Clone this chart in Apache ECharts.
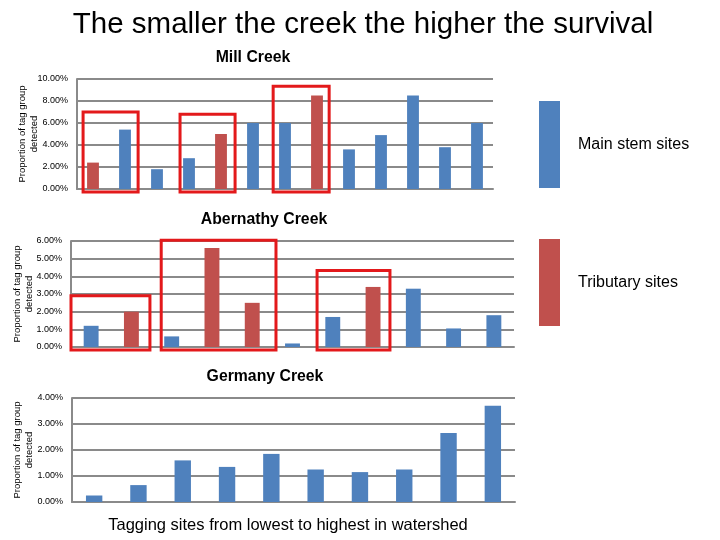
<!DOCTYPE html>
<html>
<head>
<meta charset="utf-8">
<script src="https://cdn.jsdelivr.net/npm/echarts@6/dist/echarts.min.js"></script>
<style>
  html, body { margin: 0; padding: 0; background: #fff; }
  #main { width: 720px; height: 540px; }
</style>
</head>
<body>
<div id="main"></div>
<script>
// values are percent of tag group detected
var millSites = ['1', '2', '3', '4', '5', '6', '7', '8', '9', '10', '11', '12', '13'];
var millValues = [2.4, 5.4, 1.8, 2.8, 5.0, 6.0, 6.0, 8.5, 3.6, 4.9, 8.5, 3.8, 6.0];
var millTypes = ['T', 'M', 'M', 'M', 'T', 'M', 'M', 'T', 'M', 'M', 'M', 'M', 'M'];

var aberSites = ['1', '2', '3', '4', '5', '6', '7', '8', '9', '10', '11'];
var aberValues = [1.2, 2.0, 0.6, 5.6, 2.5, 0.2, 1.7, 3.4, 3.3, 1.05, 1.8];
var aberTypes = ['M', 'T', 'M', 'T', 'T', 'M', 'M', 'T', 'M', 'M', 'M'];

var germSites = ['1', '2', '3', '4', '5', '6', '7', '8', '9', '10'];
var germValues = [0.25, 0.65, 1.6, 1.35, 1.85, 1.25, 1.15, 1.25, 2.65, 3.7];

// red boxes: first site, last site, top value (%), then left/right pad in bands
var millBoxes = [[0, 1, 7.0, -0.31, 0.41], [3, 4, 6.8, -0.28, 0.44], [6, 7, 9.35, -0.37, 0.38]];
var aberBoxes = [[0, 1, 2.9, -0.5, 0.46], [2, 4, 6.04, -0.26, 0.59], [6, 7, 4.33, -0.39, 0.42]];

var BLUE = '#4f81bd', RED = '#c0504d', GRID = '#8a8a8a';
var FONT = "'Liberation Sans', Arial, sans-serif";

function pick(values, types, t) {
  return values.map(function (v, i) { return types[i] === t ? v : '-'; });
}

function yAxis(idx, max, gap) {
  return {
    type: 'value', gridIndex: idx, min: 0, max: max, interval: max === 10 ? 2 : 1,
    name: 'Proportion of tag group\ndetected',
    nameLocation: 'middle', nameRotate: 90, nameGap: gap, nameMoveOverlap: false,
    nameTextStyle: { fontSize: 9.5, color: '#000', fontFamily: FONT, lineHeight: 12 },
    axisLine: { show: true, lineStyle: { color: GRID, width: 2 } },
    axisTick: { show: false },
    axisLabel: {
      color: '#000', fontSize: 9, fontFamily: FONT, margin: 9,
      formatter: function (v) { return v.toFixed(2) + '%'; }
    },
    splitLine: { lineStyle: { color: GRID, width: 2 } }
  };
}

function xAxis(idx, sites) {
  return {
    type: 'category', gridIndex: idx, data: sites,
    axisLine: { lineStyle: { color: GRID, width: 2 } },
    axisTick: { show: false }, axisLabel: { show: false }
  };
}

function boxSeries(idx, boxes) {
  return {
    type: 'custom', xAxisIndex: idx, yAxisIndex: idx, silent: true, z: 5,
    encode: { x: 0, y: 2 },
    data: boxes,
    renderItem: function (params, api) {
      var band = api.size([1, 0])[0];
      var tl = api.coord([api.value(0), api.value(2)]);
      var br = api.coord([api.value(1), 0]);
      var x0 = tl[0] + api.value(3) * band;
      var x1 = br[0] + api.value(4) * band;
      return {
        type: 'rect',
        shape: { x: x0, y: tl[1], width: x1 - x0, height: br[1] + 3 - tl[1] },
        style: { fill: 'none', stroke: '#e3191b', lineWidth: 3 }
      };
    }
  };
}

function barSeries(idx, name, data, color) {
  return {
    name: name, type: 'bar', xAxisIndex: idx, yAxisIndex: idx,
    stack: 'g' + idx, barWidth: '37%', data: data,
    itemStyle: { color: color }
  };
}

var chart = echarts.init(document.getElementById('main'));

var subStyle = { fontSize: 15.8, fontWeight: 'bold', color: '#000', fontFamily: FONT };

var option = {
  animation: false,
  textStyle: { fontFamily: FONT },
  title: [
    { text: 'The smaller the creek the higher the survival', left: 358, textAlign: 'center', top: 5,
      textStyle: { fontSize: 29.5, fontWeight: 'normal', color: '#000', fontFamily: FONT } },
    { text: 'Mill Creek', left: 248, textAlign: 'center', top: 45, textStyle: subStyle },
    { text: 'Abernathy Creek', left: 259, textAlign: 'center', top: 207, textStyle: subStyle },
    { text: 'Germany Creek', left: 260, textAlign: 'center', top: 364, textStyle: subStyle }
  ],
  legend: {
    data: ['Main stem sites', 'Tributary sites'],
    orient: 'vertical', left: 539, top: 101, padding: 0,
    itemWidth: 21, itemHeight: 87, itemGap: 51, icon: 'rect',
    selectedMode: false,
    textStyle: { fontSize: 16, color: '#000', fontFamily: FONT, padding: [0, 0, 0, 13] }
  },
  grid: [
    { left: 77, top: 79, width: 416, height: 110, containLabel: false, outerBoundsMode: 'none' },
    { left: 71, top: 241, width: 443, height: 106, containLabel: false, outerBoundsMode: 'none' },
    { left: 72, top: 398, width: 443, height: 104, containLabel: false, outerBoundsMode: 'none' }
  ],
  xAxis: [
    xAxis(0, millSites),
    xAxis(1, aberSites),
    Object.assign(xAxis(2, germSites), {
      name: 'Tagging sites from lowest to highest in watershed',
      nameLocation: 'middle', nameGap: 15,
      nameTextStyle: { fontSize: 16.5, color: '#000', fontFamily: FONT, padding: [0, 11, 0, 0] }
    })
  ],
  yAxis: [yAxis(0, 10, 37), yAxis(1, 6, 36), yAxis(2, 4, 37)],
  series: [
    barSeries(0, 'Main stem sites', pick(millValues, millTypes, 'M'), BLUE),
    barSeries(0, 'Tributary sites', pick(millValues, millTypes, 'T'), RED),
    boxSeries(0, millBoxes),
    barSeries(1, 'Main stem sites', pick(aberValues, aberTypes, 'M'), BLUE),
    barSeries(1, 'Tributary sites', pick(aberValues, aberTypes, 'T'), RED),
    boxSeries(1, aberBoxes),
    barSeries(2, 'Main stem sites', germValues, BLUE)
  ]
};

chart.setOption(option);
</script>
</body>
</html>
